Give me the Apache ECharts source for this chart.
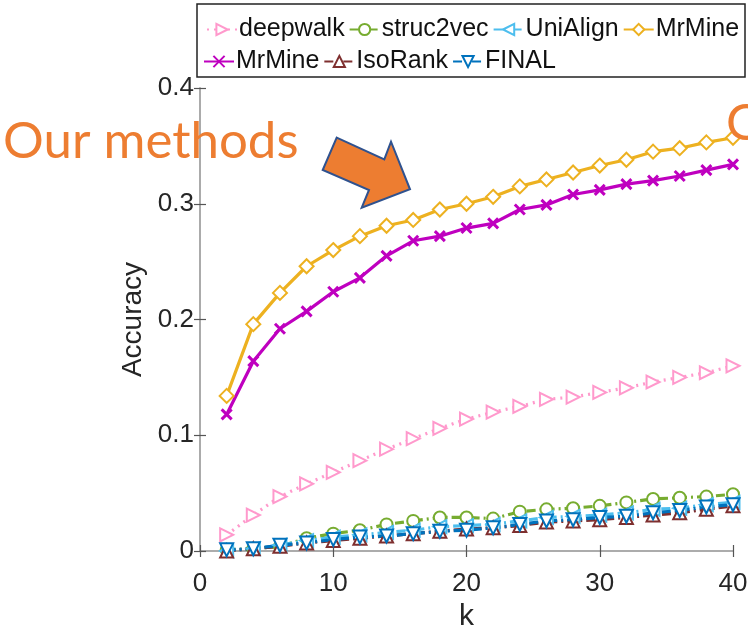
<!DOCTYPE html>
<html>
<head>
<meta charset="utf-8">
<script src="https://cdn.jsdelivr.net/npm/echarts@6/dist/echarts.min.js"></script>
<style>
  html, body { margin: 0; padding: 0; background: #fff; }
  #chart { width: 748px; height: 628px; }
</style>
</head>
<body>
<div id="chart"></div>
<script>
// k values on the horizontal axis
const kValues = [2, 4, 6, 8, 10, 12, 14, 16, 18, 20, 22, 24, 26, 28, 30, 32, 34, 36, 38, 40];

// accuracy per method
const deepwalk  = [0.014, 0.031, 0.047, 0.058, 0.068, 0.078, 0.088, 0.097, 0.106, 0.114, 0.120, 0.125, 0.131, 0.133, 0.137, 0.141, 0.146, 0.150, 0.154, 0.160];
const struc2vec = [0.001, 0.002, 0.004, 0.011, 0.015, 0.018, 0.023, 0.026, 0.029, 0.029, 0.028, 0.034, 0.036, 0.037, 0.039, 0.042, 0.045, 0.046, 0.047, 0.049];
const uniAlign  = [0.000, 0.002, 0.005, 0.009, 0.012, 0.014, 0.016, 0.018, 0.021, 0.022, 0.023, 0.026, 0.029, 0.030, 0.031, 0.033, 0.036, 0.037, 0.040, 0.042];
const mrMineA   = [0.134, 0.196, 0.223, 0.246, 0.260, 0.272, 0.281, 0.286, 0.295, 0.300, 0.306, 0.315, 0.321, 0.327, 0.333, 0.338, 0.345, 0.348, 0.353, 0.357];
const mrMineB   = [0.118, 0.164, 0.192, 0.207, 0.224, 0.236, 0.255, 0.268, 0.272, 0.279, 0.283, 0.295, 0.299, 0.308, 0.312, 0.317, 0.320, 0.324, 0.329, 0.334];
const isoRank   = [0.000, 0.002, 0.004, 0.007, 0.009, 0.011, 0.013, 0.015, 0.017, 0.019, 0.020, 0.022, 0.025, 0.026, 0.027, 0.029, 0.031, 0.033, 0.036, 0.039];
const finalAcc  = [0.001, 0.002, 0.005, 0.007, 0.010, 0.012, 0.013, 0.015, 0.017, 0.018, 0.020, 0.023, 0.026, 0.027, 0.029, 0.030, 0.033, 0.035, 0.038, 0.040];

// tick values
const xTicks = [0, 10, 20, 30, 40];
const yTicks = [0, 0.1, 0.2, 0.3, 0.4];

const legendRow1 = ['deepwalk', 'struc2vec', 'UniAlign', 'MrMine'];
const legendRow2 = ['MrMine\u200b', 'IsoRank', 'FINAL'];

const pairs = vals => kValues.map((k, i) => [k, vals[i]]);

const FONT = "'Liberation Sans', Arial, Helvetica, sans-serif";
const dotted = [2, 5];
const dashDot = [9, 4, 2, 4];
const crossPath = 'path://M0,0L10,10M10,0L0,10';

function lineSeries(name, vals, color, type, symbol, rotate, size) {
  return {
    name: name,
    type: 'line',
    data: pairs(vals),
    symbol: symbol,
    symbolSize: size,
    symbolRotate: rotate,
    showAllSymbol: true,
    lineStyle: { color: color, width: 3.2, type: type },
    itemStyle: { color: color, borderColor: color, borderWidth: 3 },
    emphasis: { disabled: true },
    animation: false
  };
}

const chart = echarts.init(document.getElementById('chart'), null, { renderer: 'canvas' });

const axisBox = { show: true, lineStyle: { color: '#a6a6a6', width: 1.5 } };
const tickIn = { show: true, inside: true, length: 6, lineStyle: { color: '#555', width: 1.2 } };

chart.setOption({
  backgroundColor: '#ffffff',
  animation: false,
  grid: { left: 200, right: 15, top: 88, bottom: 77, containLabel: false, outerBoundsMode: 'none' },
  xAxis: [{
    type: 'value', min: 0, max: 40, interval: 10,
    axisLine: axisBox, axisTick: tickIn, splitLine: { show: false },
    axisLabel: { color: '#262626', fontSize: 26, fontFamily: FONT, margin: 20,
      formatter: v => xTicks.includes(v) ? String(v) : '' },
    name: 'k', nameLocation: 'middle', nameGap: 48,
    nameTextStyle: { color: '#262626', fontSize: 30, fontFamily: FONT }
  }, {
    type: 'value', min: 0, max: 40, interval: 10, position: 'top',
    axisLine: axisBox, axisTick: tickIn, axisLabel: { show: false }, splitLine: { show: false }
  }],
  yAxis: [{
    type: 'value', min: 0, max: 0.4, interval: 0.1,
    axisLine: axisBox, axisTick: tickIn, splitLine: { show: false },
    axisLabel: { color: '#262626', fontSize: 26, fontFamily: FONT, margin: 6,
      formatter: v => yTicks.includes(+v.toFixed(1)) ? String(+v.toFixed(1)) : '' },
    name: 'Accuracy', nameLocation: 'middle', nameGap: 50, nameRotate: 90,
    nameTextStyle: { color: '#262626', fontSize: 28, fontFamily: FONT }
  }, {
    type: 'value', min: 0, max: 0.4, interval: 0.1, position: 'right',
    axisLine: axisBox, axisTick: tickIn, axisLabel: { show: false }, splitLine: { show: false }
  }],
  legend: [{
    data: legendRow1, left: 201, top: 12, itemWidth: 30, itemHeight: 14, itemGap: 4,
    textStyle: { color: '#111', fontSize: 25, fontFamily: FONT, padding: [0, 0, 0, -3] },
    selectedMode: false
  }, {
    data: legendRow2, left: 198, top: 44, itemWidth: 30, itemHeight: 14, itemGap: 4,
    formatter: n => n.replace('\u200b', ''),
    textStyle: { color: '#111', fontSize: 25, fontFamily: FONT, padding: [0, 0, 0, -3] },
    selectedMode: false
  }],
  series: [
    lineSeries('deepwalk', deepwalk, '#ff99cc', dotted, 'emptyTriangle', -90, 13),
    lineSeries('struc2vec', struc2vec, '#77ac30', dashDot, 'emptyCircle', 0, 12),
    lineSeries('UniAlign', uniAlign, '#4dbeee', dashDot, 'emptyTriangle', 90, 13),
    lineSeries('MrMine', mrMineA, '#edb120', 'solid', 'emptyDiamond', 0, 14),
    lineSeries('MrMine\u200b', mrMineB, '#bf00bf', 'solid', crossPath, 0, 10),
    lineSeries('IsoRank', isoRank, '#7e2f2f', dashDot, 'emptyTriangle', 0, 13),
    lineSeries('FINAL', finalAcc, '#0072bd', dashDot, 'emptyTriangle', 180, 13)
  ],
  graphic: [
    // legend frame
    { type: 'rect', shape: { x: 197, y: 4, width: 548, height: 73 },
      style: { fill: 'none', stroke: '#222', lineWidth: 1.5 }, z: 10 },
    // annotation text
    { type: 'text', left: 3, top: 116, z: 20,
      style: { text: 'Our methods', fill: '#ed7d31', font: '51px Lato, "Open Sans", sans-serif' } },
    { type: 'text', left: 726, top: 98, z: 20,
      style: { text: 'O', fill: '#ed7d31', font: '51px Lato, "Open Sans", sans-serif' } },
    // annotation arrow
    { type: 'polygon', z: 20,
      shape: { points: [[336.7, 137.7], [384.3, 159.3], [391, 141.7], [410, 189.3], [361.7, 207.7], [369, 190], [322.7, 170]] },
      style: { fill: '#ed7d31', stroke: '#2f528f', lineWidth: 2 } }
  ]
});
</script>
</body>
</html>
